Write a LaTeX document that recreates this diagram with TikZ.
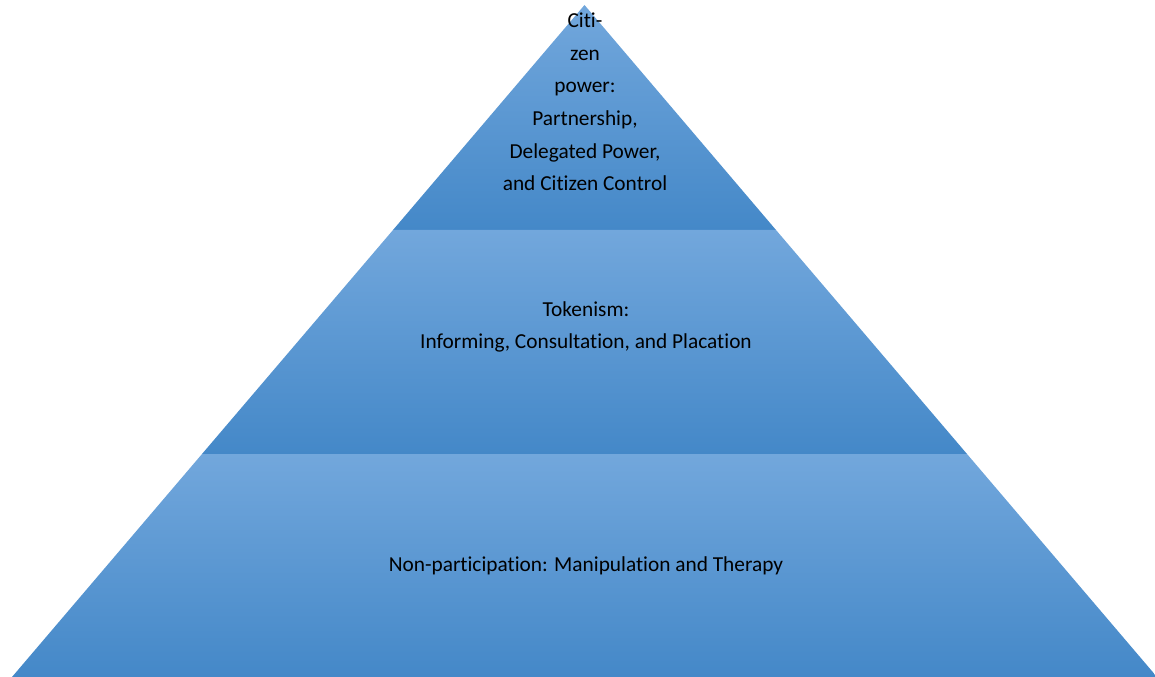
\documentclass[tikz,border=0pt]{standalone}
\usepackage{fontspec}
\setmainfont{Carlito}[Ligatures=NoCommon]
\usetikzlibrary{positioning}

\tikzset{
  band/.style={top color=bandtop, bottom color=bandbot, draw=none},
  bandtext/.style={align=center, text=black, font=\fontsize{16}{24.5}\selectfont}
}
\definecolor{bandtop}{RGB}{114,167,220}
\definecolor{bandbot}{RGB}{68,136,200}

\begin{document}
\begin{tikzpicture}[x=0.75pt,y=-0.75pt]
  \useasboundingbox (0,0) rectangle (1155,677);

  % Spitze
  \shade[band] (584.5,5) -- (393,230) -- (776,230) -- cycle;
  % die zwei unteren Stufen
  \foreach \yo/\xol/\xor/\yu/\xul/\xur in {230/393/776/454/202/967,454/202/967/677/12/1157}
  \shade[band] (\xol,\yo) -- (\xul,\yu) -- (\xur,\yu) -- (\xor,\yo) -- cycle;

  \node[bandtext] (power) at (585,102) {Citi-\\zen\\power:\\Partnership,\\Delegated Power,\\and Citizen Control};
  \node[bandtext] (token) at (586,327) {Tokenism:\\Informing, Consultation, and Placation};
  \node[bandtext] (nonpart) at (586,566) {Non-participation: Manipulation and Therapy};
\end{tikzpicture}
\end{document}
